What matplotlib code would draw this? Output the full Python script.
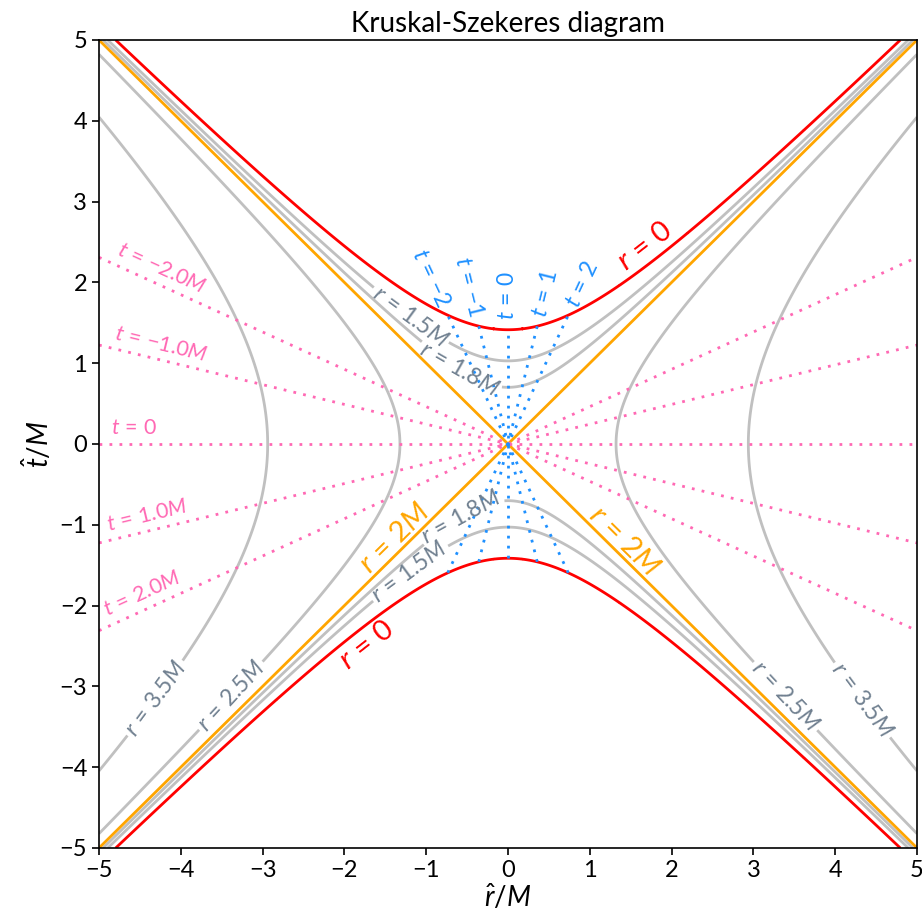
import numpy as np
import matplotlib
matplotlib.use("Agg")
import matplotlib.pyplot as plt

plt.rcParams['font.family'] = ['Lato', 'DejaVu Sans']
plt.rcParams['mathtext.fontset'] = 'custom'
plt.rcParams['mathtext.rm'] = 'Lato'
plt.rcParams['mathtext.it'] = 'Lato:italic'
plt.rcParams['mathtext.sf'] = 'Lato'
plt.rcParams['mathtext.bf'] = 'Lato:bold'
plt.rcParams['contour.negative_linestyle'] = 'solid'

# ---- data ----
r_singularity = [0.0]           # r = 0 (red)
r_horizon = [2.0]               # r = 2M (orange)
r_gray = [3.5, 2.5, 1.8, 1.5]   # other constant-r hyperbolae
t_outside = [-2.0, -1.0, 0.0, 1.0, 2.0]   # constant-t lines, regions I/III
t_inside = [-2, -1, 0, 1, 2]              # constant-t lines, regions II/IV
ticks = [-5, -4, -3, -2, -1, 0, 1, 2, 3, 4, 5]

EQ = r'\,=\,'


def kruskal_level(r):
    """Value of T^2 - X^2 on the hyperbola of constant r (units of M)."""
    return 2.0 * (1.0 - r / 2.0) * np.exp(r / 2.0)


fig = plt.figure(figsize=(9.22, 9.11), dpi=100)
ax = fig.add_axes([99 / 922, 63 / 911, 818 / 922, 808 / 911])
ax.set_xlim(-5, 5)
ax.set_ylim(-5, 5)

xg = np.linspace(-5, 5, 1201)
tg = np.linspace(-5, 5, 1201)
X, T = np.meshgrid(xg, tg)
Z = T ** 2 - X ** 2

gray_levels = sorted(kruskal_level(r) for r in r_gray)
cs_gray = ax.contour(X, T, Z, levels=gray_levels, colors='silver', linewidths=2,
                     linestyles='solid')
cs_hor = ax.contour(X, T, Z, levels=[kruskal_level(r) for r in r_horizon],
                    colors='orange', linewidths=2, linestyles='solid')
cs_sing = ax.contour(X, T, Z, levels=[kruskal_level(r) for r in r_singularity],
                     colors='red', linewidths=2, linestyles='solid')

fmt = {kruskal_level(r): r'$r' + EQ + r'%gM$' % r for r in r_gray}
gray_label_pos = [(-1.12, 1.68), (-0.61, 0.90), (-0.61, -0.84), (-1.14, -1.67),
                  (-4.40, -3.08), (-3.51, -3.0), (3.52, -3.0), (4.45, -3.08)]
ax.clabel(cs_gray, fmt=fmt, manual=gray_label_pos, inline=True,
          fontsize=16.5, colors='slategray', inline_spacing=3)

# ---- constant-t lines outside the horizon (pink) ----
xs = np.linspace(-5, 5, 400)
for t in t_outside:
    th = np.tanh(t / 4.0)
    ax.plot(xs, xs * th, color='hotpink', lw=2, ls=(0, (1, 2.6)))
    x0 = -4.85
    ang = np.degrees(np.arctan(th))
    off = 0.07
    lab = r'$t' + EQ + r'0$' if t == 0 else r'$t' + EQ + r'{%.1f}M$' % t
    ax.text(x0 - off * np.sin(np.radians(ang)), x0 * th + off * np.cos(np.radians(ang)),
            lab, color='hotpink', fontsize=15.5, rotation=ang,
            rotation_mode='anchor', ha='left', va='bottom',
            transform_rotates_text=True)

# ---- constant-t lines inside the horizon (blue) ----
for t in t_inside:
    th = np.tanh(t / 4.0)
    t_end = np.sqrt(kruskal_level(0.0) / (1 - th ** 2))
    ts = np.linspace(-t_end, t_end, 300)
    ax.plot(ts * th, ts, color='dodgerblue', lw=2, ls=(0, (1, 2.6)))
    u = np.array([th, 1.0]) / np.hypot(th, 1.0)
    anchor = np.array([th * t_end, t_end]) + 0.12 * u
    ang = np.degrees(np.arctan2(u[1], u[0]))
    if t < 0:
        rot, ha = ang - 180, 'right'
    else:
        rot, ha = ang, 'left'
    ax.text(anchor[0], anchor[1], r'$t' + EQ + r'{%g}$' % t, color='dodgerblue',
            fontsize=16.5, rotation=rot, rotation_mode='anchor', ha=ha, va='center',
            transform_rotates_text=True)

# ---- labels for r = 0 and r = 2M ----
for xc, sgn in [(1.8, 1), (-1.85, -1)]:
    tc = sgn * np.sqrt(kruskal_level(0.0) + xc ** 2)
    n = np.array([-xc, tc]) / np.hypot(xc, tc)
    p = np.array([xc, tc]) + 0.2 * n
    ang = np.degrees(np.arctan(xc / tc))
    ax.text(p[0], p[1], r'$r' + EQ + r'0$', color='red', fontsize=21, rotation=ang,
            rotation_mode='anchor', ha='center', va='center',
            transform_rotates_text=True)

for xc, slope in [(-1.28, 1), (1.31, -1)]:
    tc = slope * xc
    n = np.array([-slope, 1.0]) / np.sqrt(2)
    p = np.array([xc, tc]) + 0.15 * n
    ax.text(p[0], p[1], r'$r' + EQ + r'2M$', color='orange', fontsize=21,
            rotation=45 * slope, rotation_mode='anchor', ha='center', va='center',
            transform_rotates_text=True)

ax.set_xticks(ticks)
ax.set_yticks(ticks)
ax.tick_params(labelsize=17, length=5, width=1.2)
for s in ax.spines.values():
    s.set_linewidth(1.2)
ax.set_xlabel(r'$\hat{r}/M$', fontsize=20, labelpad=1)
ax.set_ylabel(r'$\hat{t}/M$', fontsize=20)
ax.set_title('Kruskal-Szekeres diagram', fontsize=20)

fig.savefig('out.png', dpi=100)
